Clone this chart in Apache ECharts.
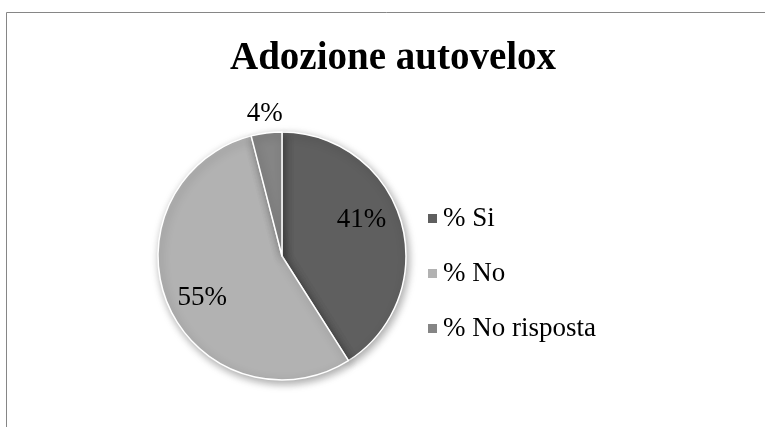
<!DOCTYPE html>
<html>
<head>
<meta charset="utf-8">
<script src="https://cdn.jsdelivr.net/npm/echarts@6/dist/echarts.min.js"></script>
<style>
  html, body { margin: 0; padding: 0; background: #fff; }
  #main { width: 765px; height: 427px; }
</style>
</head>
<body>
<div id="main"></div>
<script>
// Data
var categories = ['% Si', '% No', '% No risposta'];
var values = [41, 55, 4];
var colors = ['#5f5f5f', '#b2b2b2', '#858585'];
// label nudges so the numbers sit where Excel put them
var labelOffset = [[17, -18], [-20, 16], [-9, -78]];

var fontFamily = 'Liberation Serif, DejaVu Serif, serif';

var seriesData = categories.map(function (name, i) {
    return {
        name: name,
        value: values[i],
        itemStyle: { color: colors[i] },
        label: { offset: labelOffset[i] }
    };
});

var chart = echarts.init(document.getElementById('main'));

chart.setOption({
    animation: false,
    title: {
        text: 'Adozione autovelox',
        left: 225,
        top: 34,
        textStyle: {
            fontFamily: fontFamily,
            fontSize: 39,
            fontWeight: 'bold',
            color: '#000'
        }
    },
    legend: {
        orient: 'vertical',
        left: 421,
        top: 200,
        itemWidth: 11,
        itemHeight: 11,
        itemGap: 28,
        icon: 'rect',
        textStyle: {
            fontFamily: fontFamily,
            fontSize: 27,
            color: '#000'
        },
        data: categories
    },
    graphic: [{
        type: 'rect',
        shape: { x: 6.5, y: 12.5, width: 800, height: 500 },
        style: { fill: 'none', stroke: '#868686', lineWidth: 1 },
        silent: true
    }],
    series: [{
        type: 'pie',
        center: [282, 256],
        radius: 124,
        startAngle: 90,
        clockwise: true,
        itemStyle: {
            borderColor: '#fff',
            borderWidth: 1.5,
            shadowBlur: 8,
            shadowOffsetX: 2,
            shadowOffsetY: 3,
            shadowColor: 'rgba(0,0,0,0.35)'
        },
        label: {
            show: true,
            position: 'inside',
            formatter: '{c}%',
            fontFamily: fontFamily,
            fontSize: 27,
            color: '#000'
        },
        labelLine: { show: false },
        emphasis: { disabled: true },
        data: seriesData
    }]
});
</script>
</body>
</html>
